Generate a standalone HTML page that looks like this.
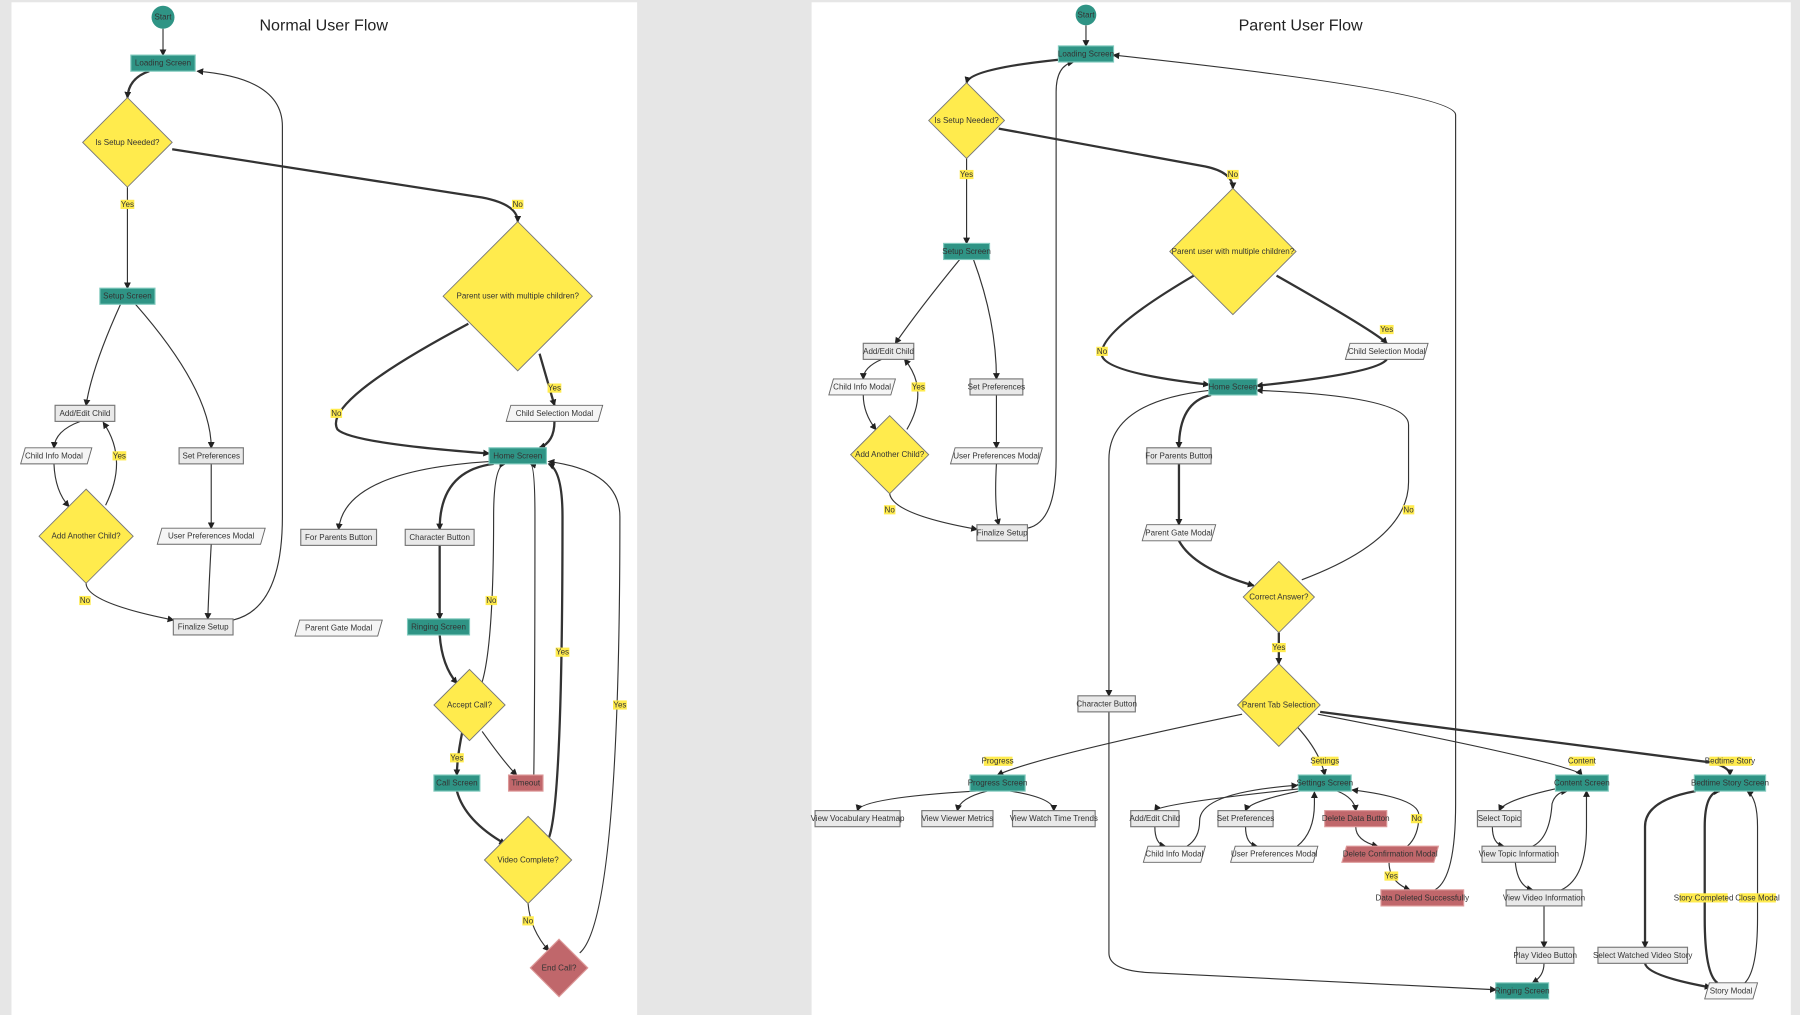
<!DOCTYPE html>
<html><head><meta charset="utf-8"><style>
html,body{margin:0;padding:0;background:#e6e6e6;}
svg{display:block}
text{font-family:"Liberation Sans",sans-serif;font-size:7px;fill:#333;text-anchor:middle;dominant-baseline:central}
.t{font-size:14px;fill:#222}
.e{fill:none;stroke:#333;stroke-width:1;marker-end:url(#a)}
.b{stroke-width:2}
.tl{fill:#2f9485;stroke:#7fc9bd;stroke-width:1}
.gr{fill:#e9e9e9;stroke:#777;stroke-width:1}
.pa{fill:#f5f5f5;stroke:#666;stroke-width:.8}
.rd{fill:#c0676b;stroke:#d99;stroke-width:1}
.ye{fill:#ffeb4d;stroke:#777;stroke-width:.8}
.lb{fill:#ffeb4d}
</style></head><body>
<svg width="1800" height="1015" viewBox="0 0 1568 884" preserveAspectRatio="none" xmlns="http://www.w3.org/2000/svg">
<defs><marker id="a" markerWidth="6" markerHeight="6" refX="5" refY="3" orient="auto" markerUnits="userSpaceOnUse"><path d="M0,0 L6,3 L0,6 z" fill="#222"/></marker></defs>
<rect x="0" y="0" width="1568" height="884" fill="#e6e6e6"/>
<rect x="10" y="2" width="545" height="882" fill="#fff"/>
<rect x="707" y="2" width="853" height="882" fill="#fff"/>
<text class="t" x="282" y="22">Normal User Flow</text>
<text class="t" x="1133" y="22">Parent User Flow</text>

<!-- LEFT EDGES -->
<path class="e" d="M142,25 L142,48"/>
<path class="e b" d="M130,62 Q112,68 111,85"/>
<path class="e" d="M111,163 L111,251"/>
<path class="e b" d="M150,130 L420,172 Q451,178 451,193"/>
<path class="e" d="M105,265 Q80,320 75,353"/>
<path class="e" d="M118,265 Q184,340 184,390"/>
<path class="e" d="M70,367 Q48,375 47,390"/>
<path class="e" d="M47,404 Q48,428 60,441"/>
<path class="e" d="M92,440 Q112,400 90,368"/>
<path class="e" d="M184,404 L184,460"/>
<path class="e" d="M75,508 Q75,525 151,540"/>
<path class="e" d="M184,474 Q182,510 181,539"/>
<path class="e" d="M203,540 Q246,530 246,450 L246,110 Q246,68 172,62"/>
<path class="e b" d="M408,282 Q280,350 294,374 Q306,386 426,395"/>
<path class="e b" d="M470,308 L483,353"/>
<path class="e b" d="M483,367 Q483,385 470,390"/>
<path class="e" d="M426,402 Q300,410 295,461"/>
<path class="e b" d="M430,404 Q383,410 383,461"/>
<path class="e b" d="M383,475 L383,539"/>
<path class="e b" d="M383,553 Q385,580 398,595"/>
<path class="e" d="M420,594 Q430,560 430,450 Q430,405 440,404"/>
<path class="e b" d="M403,636 Q398,660 398,675"/>
<path class="e" d="M420,637 Q440,665 450,675"/>
<path class="e" d="M465,675 Q466,600 466,450 Q466,405 462,404"/>
<path class="e b" d="M398,689 Q405,715 440,735"/>
<path class="e b" d="M478,730 Q490,700 490,450 Q490,410 478,404"/>
<path class="e" d="M460,787 Q462,810 478,828"/>
<path class="e" d="M505,830 Q540,800 540,450 Q540,410 478,402"/>

<!-- LEFT NODES -->
<circle cx="142" cy="15" r="10" fill="#2f9485"/><text x="142" y="15">Start</text>
<rect class="tl" x="114" y="48" width="56" height="14"/><text x="142" y="55">Loading Screen</text>
<polygon class="ye" points="111,85 150,124 111,163 72,124"/><text x="111" y="124">Is Setup Needed?</text>
<rect class="tl" x="87" y="251" width="48" height="14"/><text x="111" y="258">Setup Screen</text>
<polygon class="ye" points="451,193 516,258 451,323 386,258"/><text x="451" y="258">Parent user with multiple children?</text>
<rect class="gr" x="48" y="353" width="52" height="14"/><text x="74" y="360">Add/Edit Child</text>
<polygon class="pa" points="18,404 22,390 80,390 76,404"/><text x="47" y="397">Child Info Modal</text>
<rect class="gr" x="156" y="390" width="56" height="14"/><text x="184" y="397">Set Preferences</text>
<polygon class="pa" points="441,367 445,353 525,353 521,367"/><text x="483" y="360">Child Selection Modal</text>
<rect class="tl" x="426" y="390" width="50" height="14"/><text x="451" y="397">Home Screen</text>
<polygon class="ye" points="75,426 116,467 75,508 34,467"/><text x="75" y="467">Add Another Child?</text>
<polygon class="pa" points="137,474 141,460 231,460 227,474"/><text x="184" y="467">User Preferences Modal</text>
<rect class="gr" x="262" y="461" width="66" height="14"/><text x="295" y="468">For Parents Button</text>
<rect class="gr" x="353" y="461" width="60" height="14"/><text x="383" y="468">Character Button</text>
<rect class="gr" x="151" y="539" width="52" height="14"/><text x="177" y="546">Finalize Setup</text>
<polygon class="pa" points="257,554 261,540 333,540 329,554"/><text x="295" y="547">Parent Gate Modal</text>
<rect class="tl" x="355" y="539" width="54" height="14"/><text x="382" y="546">Ringing Screen</text>
<polygon class="ye" points="409,583 440,614 409,645 378,614"/><text x="409" y="614">Accept Call?</text>
<rect class="tl" x="378" y="675" width="40" height="14"/><text x="398" y="682">Call Screen</text>
<rect class="rd" x="443" y="675" width="30" height="14"/><text x="458" y="682">Timeout</text>
<polygon class="ye" points="460,711 498,749 460,787 422,749"/><text x="460" y="749">Video Complete?</text>
<polygon class="rd" points="487,818 512,843 487,868 462,843"/><text x="487" y="843">End Call?</text>

<!-- LEFT LABELS -->
<rect class="lb" x="105" y="174" width="12" height="8"/><text x="111" y="178">Yes</text>
<rect class="lb" x="446" y="174" width="10" height="8"/><text x="451" y="178">No</text>
<rect class="lb" x="288" y="356" width="10" height="8"/><text x="293" y="360">No</text>
<rect class="lb" x="477" y="334" width="12" height="8"/><text x="483" y="338">Yes</text>
<rect class="lb" x="98" y="393" width="12" height="8"/><text x="104" y="397">Yes</text>
<rect class="lb" x="69" y="519" width="10" height="8"/><text x="74" y="523">No</text>
<rect class="lb" x="423" y="519" width="10" height="8"/><text x="428" y="523">No</text>
<rect class="lb" x="484" y="564" width="12" height="8"/><text x="490" y="568">Yes</text>
<rect class="lb" x="534" y="610" width="12" height="8"/><text x="540" y="614">Yes</text>
<rect class="lb" x="392" y="656" width="12" height="8"/><text x="398" y="660">Yes</text>
<rect class="lb" x="455" y="798" width="10" height="8"/><text x="460" y="802">No</text>

<!-- RIGHT EDGES -->
<path class="e" d="M946,22 L946,40"/>
<path class="e b" d="M922,52 Q845,60 842,72"/>
<path class="e" d="M842,138 L842,212"/>
<path class="e b" d="M870,112 L1050,145 Q1074,150 1074,164"/>
<path class="e" d="M836,226 Q800,270 780,299"/>
<path class="e" d="M848,226 Q868,280 868,330"/>
<path class="e" d="M768,313 Q752,320 752,330"/>
<path class="e" d="M752,344 Q752,360 763,374"/>
<path class="e" d="M790,374 Q810,340 788,313"/>
<path class="e" d="M868,344 L868,390"/>
<path class="e" d="M775,430 Q778,448 851,461"/>
<path class="e" d="M868,404 Q866,440 870,457"/>
<path class="e" d="M895,460 Q920,455 920,400 L920,80 Q920,57 935,54"/>
<path class="e b" d="M1040,240 Q955,290 960,310 Q965,325 1053,335"/>
<path class="e b" d="M1112,240 Q1200,290 1208,299"/>
<path class="e b" d="M1208,313 Q1200,325 1095,336"/>
<path class="e b" d="M1055,344 Q1027,350 1027,390"/>
<path class="e" d="M1053,340 Q966,350 966,400 L966,606"/>
<path class="e b" d="M1027,404 L1027,457"/>
<path class="e b" d="M1027,471 Q1040,495 1092,510"/>
<path class="e" d="M1134,505 Q1227,470 1227,420 L1227,370 Q1227,345 1095,340"/>
<path class="e b" d="M1114,551 L1114,578"/>
<path class="e" d="M1082,622 Q900,660 869,675"/>
<path class="e" d="M1130,633 Q1150,655 1154,675"/>
<path class="e" d="M1148,622 Q1370,665 1378,675"/>
<path class="e b" d="M1150,620 L1490,664 Q1507,668 1507,675"/>
<path class="e" d="M850,689 Q750,695 747,706"/>
<path class="e" d="M860,689 Q836,695 834,706"/>
<path class="e" d="M880,689 Q918,695 918,706"/>
<path class="e" d="M1132,687 Q1010,700 1006,706"/>
<path class="e" d="M1006,720 Q1006,735 1015,737"/>
<path class="e" d="M1034,737 Q1045,730 1045,715 Q1045,690 1130,684"/>
<path class="e" d="M1132,689 Q1088,698 1085,706"/>
<path class="e" d="M1085,720 Q1085,735 1095,737"/>
<path class="e" d="M1130,737 Q1145,725 1145,700 L1145,690"/>
<path class="e" d="M1165,689 Q1180,695 1181,706"/>
<path class="e" d="M1181,720 Q1181,732 1200,737"/>
<path class="e" d="M1226,737 Q1236,728 1236,710 Q1236,695 1178,688"/>
<path class="e" d="M1210,751 Q1210,768 1228,775"/>
<path class="e" d="M1250,775 Q1268,765 1268,700 L1268,100 Q1268,80 970,48"/>
<path class="e" d="M1355,687 Q1310,697 1306,706"/>
<path class="e" d="M1300,720 Q1300,735 1310,737"/>
<path class="e" d="M1335,737 Q1350,730 1352,700 Q1355,690 1365,689"/>
<path class="e" d="M1320,751 Q1322,772 1335,775"/>
<path class="e" d="M1360,775 Q1382,765 1382,720 L1382,689"/>
<path class="e" d="M1345,789 L1345,825"/>
<path class="e" d="M1345,839 Q1345,850 1335,856"/>
<path class="e" d="M966,620 L966,830 Q966,845 1000,847 L1303,862"/>
<path class="e b" d="M1477,689 Q1433,697 1433,720 L1433,825"/>
<path class="e b" d="M1433,839 Q1435,850 1490,860"/>
<path class="e b" d="M1496,856 Q1485,848 1485,800 L1485,720 Q1485,690 1498,689"/>
<path class="e" d="M1520,856 Q1531,845 1531,800 L1531,720 Q1531,695 1522,689"/>

<!-- RIGHT NODES -->
<circle cx="946" cy="13" r="9" fill="#2f9485"/><text x="946" y="13">Start</text>
<rect class="tl" x="922" y="40" width="48" height="14"/><text x="946" y="47">Loading Screen</text>
<polygon class="ye" points="842,72 875,105 842,138 809,105"/><text x="842" y="105">Is Setup Needed?</text>
<polygon class="ye" points="1074,164 1129,219 1074,274 1019,219"/><text x="1074" y="219">Parent user with multiple children?</text>
<rect class="tl" x="822" y="212" width="40" height="14"/><text x="842" y="219">Setup Screen</text>
<rect class="gr" x="752" y="299" width="44" height="14"/><text x="774" y="306">Add/Edit Child</text>
<polygon class="pa" points="1172,313 1176,299 1244,299 1240,313"/><text x="1208" y="306">Child Selection Modal</text>
<polygon class="pa" points="722,344 726,330 780,330 776,344"/><text x="751" y="337">Child Info Modal</text>
<rect class="gr" x="845" y="330" width="46" height="14"/><text x="868" y="337">Set Preferences</text>
<rect class="tl" x="1053" y="330" width="42" height="14"/><text x="1074" y="337">Home Screen</text>
<polygon class="ye" points="775,362 809,396 775,430 741,396"/><text x="775" y="396">Add Another Child?</text>
<polygon class="pa" points="828,404 832,390 908,390 904,404"/><text x="868" y="397">User Preferences Modal</text>
<rect class="gr" x="999" y="390" width="56" height="14"/><text x="1027" y="397">For Parents Button</text>
<rect class="gr" x="851" y="457" width="44" height="14"/><text x="873" y="464">Finalize Setup</text>
<polygon class="pa" points="995,471 999,457 1059,457 1055,471"/><text x="1027" y="464">Parent Gate Modal</text>
<polygon class="ye" points="1114,489 1145,520 1114,551 1083,520"/><text x="1114" y="520">Correct Answer?</text>
<polygon class="ye" points="1114,578 1150,614 1114,650 1078,614"/><text x="1114" y="614">Parent Tab Selection</text>
<rect class="gr" x="939" y="606" width="50" height="14"/><text x="964" y="613">Character Button</text>
<rect class="tl" x="845" y="675" width="48" height="14"/><text x="869" y="682">Progress Screen</text>
<rect class="tl" x="1131" y="675" width="46" height="14"/><text x="1154" y="682">Settings Screen</text>
<rect class="tl" x="1355" y="675" width="46" height="14"/><text x="1378" y="682">Content Screen</text>
<rect class="tl" x="1476" y="675" width="62" height="14"/><text x="1507" y="682">Bedtime Story Screen</text>
<rect class="gr" x="710" y="706" width="74" height="14"/><text x="747" y="713">View Vocabulary Heatmap</text>
<rect class="gr" x="803" y="706" width="62" height="14"/><text x="834" y="713">View Viewer Metrics</text>
<rect class="gr" x="882" y="706" width="72" height="14"/><text x="918" y="713">View Watch Time Trends</text>
<rect class="gr" x="985" y="706" width="42" height="14"/><text x="1006" y="713">Add/Edit Child</text>
<rect class="gr" x="1061" y="706" width="48" height="14"/><text x="1085" y="713">Set Preferences</text>
<rect class="rd" x="1154" y="706" width="54" height="14"/><text x="1181" y="713">Delete Data Button</text>
<rect class="gr" x="1287" y="706" width="38" height="14"/><text x="1306" y="713">Select Topic</text>
<polygon class="pa" points="996,751 1000,737 1050,737 1046,751"/><text x="1023" y="744">Child Info Modal</text>
<polygon class="pa" points="1072,751 1076,737 1148,737 1144,751"/><text x="1110" y="744">User Preferences Modal</text>
<polygon class="rd" points="1169,751 1173,737 1253,737 1249,751"/><text x="1211" y="744">Delete Confirmation Modal</text>
<rect class="gr" x="1291" y="737" width="64" height="14"/><text x="1323" y="744">View Topic Information</text>
<rect class="rd" x="1203" y="775" width="72" height="14"/><text x="1239" y="782">Data Deleted Successfully</text>
<rect class="gr" x="1312" y="775" width="66" height="14"/><text x="1345" y="782">View Video Information</text>
<rect class="gr" x="1321" y="825" width="50" height="14"/><text x="1346" y="832">Play Video Button</text>
<rect class="gr" x="1392" y="825" width="78" height="14"/><text x="1431" y="832">Select Watched Video Story</text>
<rect class="tl" x="1303" y="856" width="46" height="14"/><text x="1326" y="863">Ringing Screen</text>
<polygon class="pa" points="1485,870 1489,856 1531,856 1527,870"/><text x="1508" y="863">Story Modal</text>

<!-- RIGHT LABELS -->
<rect class="lb" x="836" y="148" width="12" height="8"/><text x="842" y="152">Yes</text>
<rect class="lb" x="1069" y="148" width="10" height="8"/><text x="1074" y="152">No</text>
<rect class="lb" x="955" y="302" width="10" height="8"/><text x="960" y="306">No</text>
<rect class="lb" x="1202" y="283" width="12" height="8"/><text x="1208" y="287">Yes</text>
<rect class="lb" x="794" y="333" width="12" height="8"/><text x="800" y="337">Yes</text>
<rect class="lb" x="770" y="440" width="10" height="8"/><text x="775" y="444">No</text>
<rect class="lb" x="1222" y="440" width="10" height="8"/><text x="1227" y="444">No</text>
<rect class="lb" x="1108" y="560" width="12" height="8"/><text x="1114" y="564">Yes</text>
<rect class="lb" x="857" y="659" width="25" height="8"/><text x="869" y="663">Progress</text>
<rect class="lb" x="1143" y="659" width="23" height="8"/><text x="1154" y="663">Settings</text>
<rect class="lb" x="1367" y="659" width="22" height="8"/><text x="1378" y="663">Content</text>
<rect class="lb" x="1489" y="659" width="37" height="8"/><text x="1507" y="663">Bedtime Story</text>
<rect class="lb" x="1229" y="709" width="10" height="8"/><text x="1234" y="713">No</text>
<rect class="lb" x="1206" y="759" width="12" height="8"/><text x="1212" y="763">Yes</text>
<rect class="lb" x="1463" y="778" width="42" height="8"/><text x="1484" y="782">Story Completed</text>
<rect class="lb" x="1515" y="778" width="32" height="8"/><text x="1531" y="782">Close Modal</text>
</svg>
</body></html>
